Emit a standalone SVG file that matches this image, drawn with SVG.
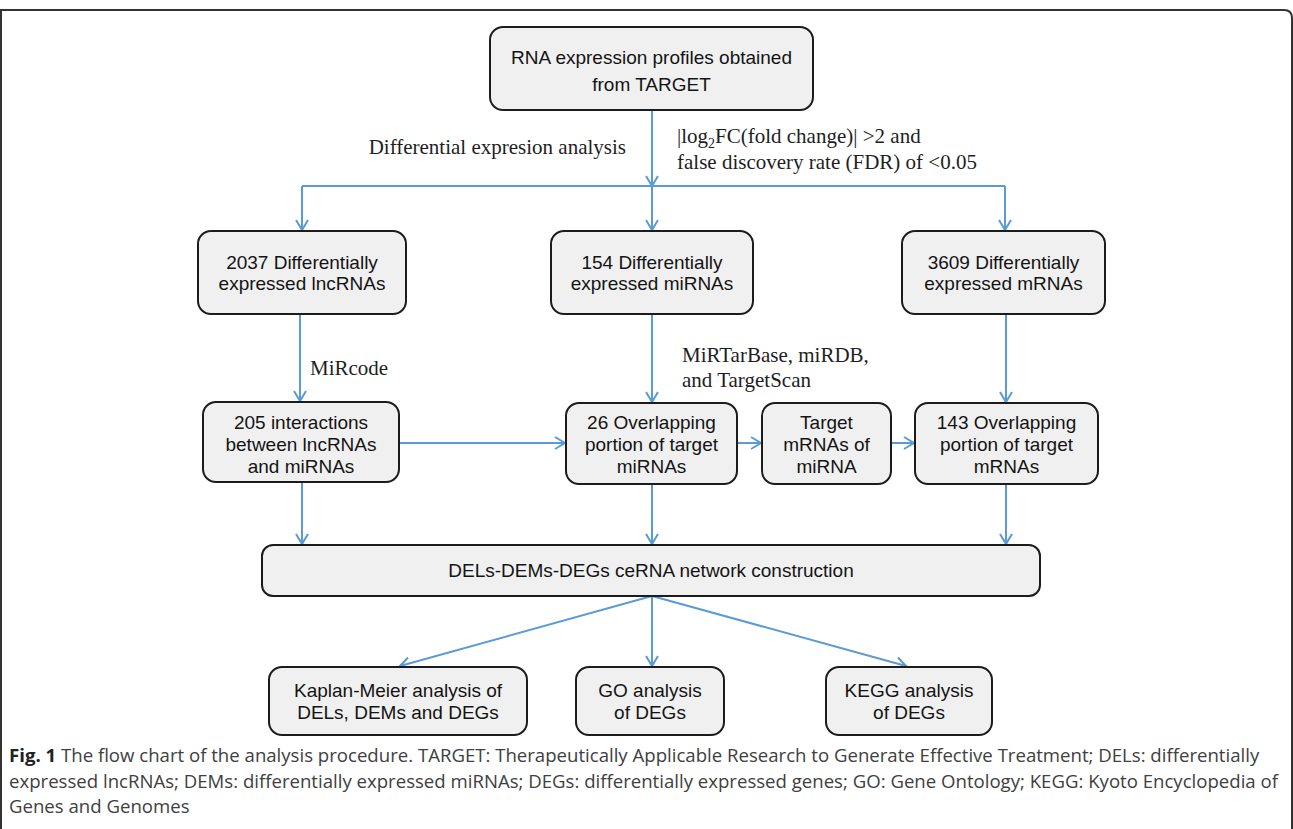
<svg xmlns="http://www.w3.org/2000/svg" width="1293" height="829" viewBox="0 0 1293 829">
<style>
.box{fill:#f0f0f0;stroke:#1c1c1c;stroke-width:2}
.bt{font-family:"Liberation Sans",Arial,sans-serif;font-size:19px;fill:#141414;text-anchor:middle}
.lbl{font-family:"Liberation Serif","Times New Roman",serif;font-size:21px;fill:#1e1e1e}
.con{stroke:#5b9bd5;stroke-width:2;fill:none}
.cap{font-family:"Open Sans",sans-serif;font-size:18.6px;fill:#404040}
</style>
<defs>
<marker id="ah" viewBox="-12 -8 14 16" refX="0" refY="0" markerWidth="14" markerHeight="16" markerUnits="userSpaceOnUse" orient="auto">
<path d="M -10 -6 L 0 0 L -10 6" fill="none" stroke="#5b9bd5" stroke-width="2"/>
</marker>
</defs>
<rect x="0" y="0" width="1293" height="829" fill="#ffffff"/>
<path d="M 1 840 L 1 10 L 1284 10 Q 1292 10 1292 18 L 1292 840" fill="none" stroke="#333" stroke-width="2"/>

<g id="connectors">
<line class="con" x1="652" y1="110" x2="652" y2="186" marker-end="url(#ah)"/>
<line class="con" x1="302" y1="186" x2="1005" y2="186"/>
<line class="con" x1="302" y1="186" x2="302" y2="230" marker-end="url(#ah)"/>
<line class="con" x1="652" y1="186" x2="652" y2="230" marker-end="url(#ah)"/>
<line class="con" x1="1005" y1="186" x2="1005" y2="230" marker-end="url(#ah)"/>
<line class="con" x1="300" y1="314" x2="300" y2="401" marker-end="url(#ah)"/>
<line class="con" x1="652" y1="314" x2="652" y2="402" marker-end="url(#ah)"/>
<line class="con" x1="1006" y1="314" x2="1006" y2="402" marker-end="url(#ah)"/>
<line class="con" x1="399" y1="443" x2="565" y2="443" marker-end="url(#ah)"/>
<line class="con" x1="737" y1="443" x2="761" y2="443" marker-end="url(#ah)"/>
<line class="con" x1="891" y1="443" x2="914" y2="443" marker-end="url(#ah)"/>
<line class="con" x1="302" y1="482" x2="302" y2="544" marker-end="url(#ah)"/>
<line class="con" x1="652" y1="484" x2="652" y2="544" marker-end="url(#ah)"/>
<line class="con" x1="1006" y1="484" x2="1006" y2="544" marker-end="url(#ah)"/>
<line class="con" x1="652" y1="596" x2="400" y2="666" marker-end="url(#ah)"/>
<line class="con" x1="652" y1="596" x2="652" y2="666" marker-end="url(#ah)"/>
<line class="con" x1="652" y1="596" x2="906" y2="666" marker-end="url(#ah)"/>
</g>

<g id="labels">
<text class="lbl" x="626" y="154" text-anchor="end">Differential expresion analysis</text>
<text class="lbl" x="677" y="143">|log<tspan font-size="14" dy="5">2</tspan><tspan dy="-5">FC(fold change)| &gt;2 and</tspan></text>
<text class="lbl" x="677" y="169">false discovery rate (FDR) of &lt;0.05</text>
<text class="lbl" x="310" y="375">MiRcode</text>
<text class="lbl" x="682" y="362">MiRTarBase, miRDB,</text>
<text class="lbl" x="682" y="387">and TargetScan</text>
</g>

<g id="n-top">
<rect class="box" x="490" y="27" width="323" height="83" rx="13"/>
<text class="bt" x="651.5" y="64">RNA expression profiles obtained</text>
<text class="bt" x="651.5" y="91">from TARGET</text>
</g>
<g id="n-lnc">
<rect class="box" x="198" y="231" width="208" height="83" rx="13"/>
<text class="bt" x="302" y="269">2037 Differentially</text>
<text class="bt" x="302" y="290">expressed lncRNAs</text>
</g>
<g id="n-mir">
<rect class="box" x="551" y="231" width="202" height="83" rx="13"/>
<text class="bt" x="652" y="269">154 Differentially</text>
<text class="bt" x="652" y="290">expressed miRNAs</text>
</g>
<g id="n-mrna">
<rect class="box" x="902" y="231" width="203" height="83" rx="13"/>
<text class="bt" x="1003.5" y="269">3609 Differentially</text>
<text class="bt" x="1003.5" y="290">expressed mRNAs</text>
</g>
<g id="n-inter">
<rect class="box" x="203" y="402" width="196" height="80" rx="13"/>
<text class="bt" x="301" y="429">205 interactions</text>
<text class="bt" x="301" y="451">between lncRNAs</text>
<text class="bt" x="301" y="473">and miRNAs</text>
</g>
<g id="n-overmir">
<rect class="box" x="566" y="403" width="171" height="81" rx="13"/>
<text class="bt" x="651.5" y="429">26 Overlapping</text>
<text class="bt" x="651.5" y="451">portion of target</text>
<text class="bt" x="651.5" y="473">miRNAs</text>
</g>
<g id="n-target">
<rect class="box" x="762" y="403" width="129" height="81" rx="13"/>
<text class="bt" x="826.5" y="429">Target</text>
<text class="bt" x="826.5" y="451">mRNAs of</text>
<text class="bt" x="826.5" y="473">miRNA</text>
</g>
<g id="n-overmrna">
<rect class="box" x="915" y="403" width="183" height="81" rx="13"/>
<text class="bt" x="1006.5" y="429">143 Overlapping</text>
<text class="bt" x="1006.5" y="451">portion of target</text>
<text class="bt" x="1006.5" y="473">mRNAs</text>
</g>
<g id="n-cerna">
<rect class="box" x="262" y="545" width="778" height="51" rx="11"/>
<text class="bt" x="651" y="577">DELs-DEMs-DEGs ceRNA network construction</text>
</g>
<g id="n-km">
<rect class="box" x="269" y="667" width="258" height="68" rx="13"/>
<text class="bt" x="398" y="697">Kaplan-Meier analysis of</text>
<text class="bt" x="398" y="719">DELs, DEMs and DEGs</text>
</g>
<g id="n-go">
<rect class="box" x="576" y="667" width="148" height="68" rx="13"/>
<text class="bt" x="650" y="697">GO analysis</text>
<text class="bt" x="650" y="719">of DEGs</text>
</g>
<g id="n-kegg">
<rect class="box" x="826" y="667" width="166" height="68" rx="13"/>
<text class="bt" x="909" y="697">KEGG analysis</text>
<text class="bt" x="909" y="719">of DEGs</text>
</g>

<g id="caption">
<text class="cap" x="9" y="762"><tspan font-weight="bold" fill="#222">Fig. 1</tspan> The flow chart of the analysis procedure. TARGET: Therapeutically Applicable Research to Generate Effective Treatment; DELs: differentially</text>
<text class="cap" x="9" y="788">expressed lncRNAs; DEMs: differentially expressed miRNAs; DEGs: differentially expressed genes; GO: Gene Ontology; KEGG: Kyoto Encyclopedia of</text>
<text class="cap" x="9" y="813">Genes and Genomes</text>
</g>
</svg>
